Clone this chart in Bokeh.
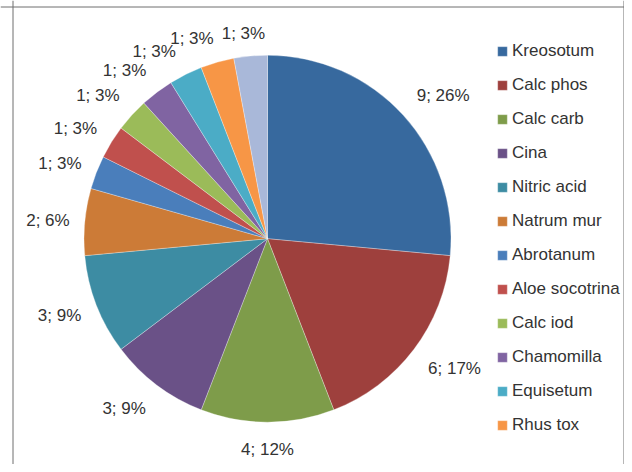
import math
from bokeh.plotting import figure
from bokeh.models import Range1d, Legend, LegendItem, Span, ColumnDataSource
from bokeh.core.properties import value
from bokeh.embed import file_html
from bokeh.resources import INLINE

# ---- data ----
categories = ["Kreosotum", "Calc phos", "Calc carb", "Cina", "Nitric acid", "Natrum mur",
              "Abrotanum", "Aloe socotrina", "Calc iod", "Chamomilla", "Equisetum", "Rhus tox",
              "Other"]
counts = [9, 6, 4, 3, 3, 2, 1, 1, 1, 1, 1, 1, 1]
percents = [26, 17, 12, 9, 9, 6, 3, 3, 3, 3, 3, 3, 3]
legend_count = 12  # the reference legend shows only the first 12 entries

# ---- styles / layout ----
colors = ["#37699E", "#9E403D", "#7E9C4A", "#6A5187", "#3D8CA3", "#CC7B37",
          "#4A7EBB", "#C0504D", "#9BBB59", "#8064A2", "#4BACC6", "#F79646", "#A9B8D9"]
label_shift_deg = [3.2, -2.3, 0, 3.1, 0.9, -0.6, -1.3, -1.9, -2.2, -3.3, -4.7, -4.8, -1.4]
label_dist = [226.5, 227.6, 210.8, 222.3, 221.7, 220.3, 220.7, 221.5, 221.9, 220.8, 218.9, 214.0, 206.6]

W, H = 624, 464
CX, CY, R = 267.0, 225.8, 183.5
FONT = "Liberation Sans"
TEXT_COLOR = "#333333"

total = sum(counts)
starts, ends, lx, ly, texts = [], [], [], [], []
cum = 0
for i, c in enumerate(counts):
    a0 = cum / total * 2 * math.pi
    a1 = (cum + c) / total * 2 * math.pi
    starts.append(math.pi / 2 - a1)
    ends.append(math.pi / 2 - a0)
    mid = (a0 + a1) / 2 + math.radians(label_shift_deg[i])
    lx.append(CX + label_dist[i] * math.sin(mid))
    ly.append(CY + label_dist[i] * math.cos(mid))
    texts.append(f"{c}; {percents[i]}%")
    cum += c

src = ColumnDataSource(dict(cat=categories, start=starts, end=ends, color=colors,
                            x=[CX] * len(counts), y=[CY] * len(counts)))
lsrc = ColumnDataSource(dict(x=lx, y=ly, text=texts))

p = figure(width=W, height=H, output_backend="svg", toolbar_location=None,
           x_range=Range1d(0, W), y_range=Range1d(0, H), min_border=0)
p.axis.visible = False
p.grid.visible = False
p.outline_line_color = None
p.background_fill_color = "white"
p.border_fill_color = "white"

r = p.wedge(x="x", y="y", radius=R, start_angle="start", end_angle="end",
            fill_color="color", line_color="white", line_width=0.5, line_alpha=0.6,
            source=src)

p.text(x="x", y="y", text="text", source=lsrc, text_font=value(FONT),
       text_font_size="17px", text_color=TEXT_COLOR, text_align="center",
       text_baseline="middle")

items = [LegendItem(label=categories[i], renderers=[r], index=i) for i in range(legend_count)]
legend = Legend(items=items, location=(496, 29), padding=0, margin=0,
                border_line_color=None, background_fill_alpha=0,
                glyph_width=12, glyph_height=12, label_height=20, spacing=14,
                label_standoff=4, label_text_font=FONT, label_text_font_size="17px",
                label_text_color=TEXT_COLOR)
p.add_layout(legend)

# chart frame (left, top, right; bottom lies beyond the picture)
border = "#6e6e6e"
p.add_layout(Span(location=12.5, dimension="height", line_color=border, line_width=1))
p.add_layout(Span(location=623.5, dimension="height", line_color=border, line_width=1))
p.add_layout(Span(location=457.5, dimension="width", line_color=border, line_width=1))

open("out.html", "w").write(file_html(p, INLINE))
